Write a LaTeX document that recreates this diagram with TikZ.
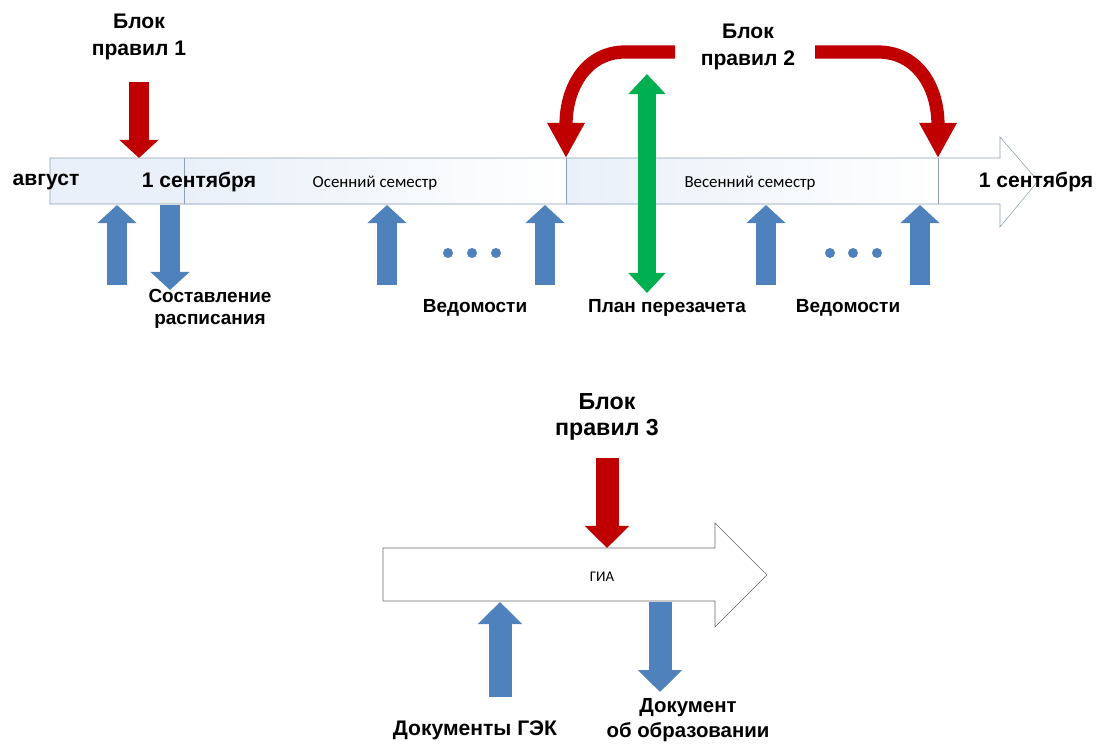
\documentclass[tikz,border=0pt]{standalone}
\usepackage{fontspec}
\setmainfont{Liberation Sans}
\newfontfamily\calfont{Carlito}
\usetikzlibrary{arrows.meta}
\definecolor{rulered}{RGB}{192,0,0}
\definecolor{docblue}{RGB}{79,129,189}
\definecolor{plangreen}{RGB}{0,176,80}
\definecolor{barline}{RGB}{140,160,182}
\definecolor{bartint}{RGB}{233,240,249}
\definecolor{giline}{RGB}{105,105,105}
\tikzset{
  bluearr/.style={docblue, line width=0.5cm, -{Triangle[length=0.45cm,width=0.95cm]}},
  redarr/.style={rulered, line width=0.5cm, -{Triangle[length=0.45cm,width=0.95cm]}},
  bendarr/.style={rulered, line width=0.33cm, -{Triangle[length=0.875cm,width=0.875cm]}},
  bigarr/.style={line width=0.575cm, -{Triangle[length=0.55cm,width=1.075cm]}},
  lbl/.style={font=\bfseries\fontsize{13.5}{15.5}\selectfont, align=center},
  blocklbl/.style={font=\bfseries\fontsize{15}{19}\selectfont, align=center},
  seglbl/.style={font=\calfont\fontsize{12}{14}\selectfont}
}
\begin{document}
\begin{tikzpicture}[x=0.025cm,y=-0.025cm]
\useasboundingbox (0,0) rectangle (1099,749);
% top time line
\fill[bartint] (50,158) rectangle (184,204);
\shade[left color=bartint, right color=white] (184,158) rectangle (566,204);
\shade[left color=bartint, right color=white] (566,158) rectangle (938,204);
\draw[barline] (50,158) -- (1000,158) -- (1000,137) -- (1038,181) -- (1000,227) -- (1000,204) -- (50,204) -- cycle;
\draw[barline] (184,158) -- (184,204);
\draw[barline] (566,158) -- (566,204);
\draw[barline] (938,158) -- (938,204);
\node (aug) at (46,182) {\bfseries\fontsize{15}{17}\selectfont август};
\node (sep1) at (199,182) {\bfseries\fontsize{15}{17}\selectfont 1 сентября};
\node[seglbl] (autumn) at (375,183) {Осенний семестр};
\node[seglbl] (spring) at (750,183) {Весенний семестр};
\node (sep2) at (1036,182) {\bfseries\fontsize{15}{17}\selectfont 1 сентября};
% rule blocks
\node[blocklbl] (rb1) at (139,37) {Блок\\правил 1};
\draw[redarr] (139,82) -- (139,158);
\node[blocklbl] (rb2) at (748,47) {Блок\\правил 2};
\draw[bendarr] (675,52) -- (625,52) .. controls (588,52) and (566,85) .. (566,158);
\draw[bendarr] (815,52) -- (878,52) .. controls (916,52) and (938,85) .. (938,158);
\draw[plangreen, line width=0.45cm, {Triangle[length=0.5cm,width=0.9cm]}-{Triangle[length=0.5cm,width=0.9cm]}] (647,74) -- (647,293);
% documents
\draw[bluearr] (117,285) -- (117,205);
\draw[bluearr] (170,205) -- (170,290);
\foreach \x in {387,545,766,920}
  \draw[bluearr] (\x,285) -- (\x,205);
\foreach \x in {448,472,496,830,853,877}
  \fill[docblue] (\x,253) circle (5);
\node[lbl] (sched) at (210,309) {Составление\\расписания};
\node[lbl] (sheets1) at (475,308) {Ведомости};
\node[lbl] (plan) at (667,308) {План перезачета};
\node[lbl] (sheets2) at (848,308) {Ведомости};
% final attestation
\draw[giline, fill=white] (383,548) -- (715,548) -- (715,523) -- (767,575) -- (715,627) -- (715,601) -- (383,601) -- cycle;
\node[font=\calfont\fontsize{10.5}{12}\selectfont] (gia) at (602,577) {ГИА};
\node[blocklbl, font=\bfseries\fontsize{16.5}{19}\selectfont] (rb3) at (607,417) {Блок\\правил 3};
\draw[bigarr, rulered] (607,458) -- (607,548);
\draw[bigarr, docblue] (500,697) -- (500,602);
\draw[bigarr, docblue] (660,602) -- (660,692);
\node[lbl, font=\bfseries\fontsize{15}{17}\selectfont] (gek) at (475,730) {Документы ГЭК};
\node[lbl, font=\bfseries\fontsize{14.5}{17.5}\selectfont] (diploma) at (688,720) {Документ\\об образовании};
\end{tikzpicture}
\end{document}
